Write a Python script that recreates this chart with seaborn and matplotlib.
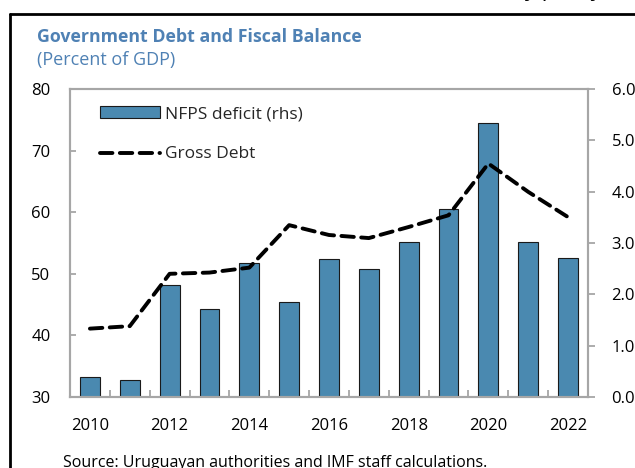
import numpy as np
import pandas as pd
import matplotlib
matplotlib.use("Agg")
import matplotlib.pyplot as plt
from matplotlib.lines import Line2D
from matplotlib.patches import Patch
from matplotlib.ticker import FixedLocator
import seaborn as sns

# Data (percent of GDP)
years = [2010, 2011, 2012, 2013, 2014, 2015, 2016, 2017, 2018, 2019, 2020, 2021, 2022]
nfps_deficit = [0.39, 0.33, 2.18, 1.72, 2.61, 1.85, 2.69, 2.50, 3.02, 3.66, 5.34, 3.02, 2.71]
gross_debt = [41.1, 41.5, 50.0, 50.2, 51.0, 57.9, 56.3, 55.8, 57.6, 59.5, 67.9, 63.3, 59.2]
year_labels = ["2010", "2012", "2014", "2016", "2018", "2020", "2022"]

df = pd.DataFrame({"year": years, "deficit": nfps_deficit, "debt": gross_debt})

sns.set_theme(style="white")
plt.rcParams["font.family"] = ["Open Sans", "DejaVu Sans"]

BLUE = "#4A89B0"
TITLE_BLUE = "#4F81B4"
SPINE = "#A6A6A6"
DASH = (0, (3.2, 1.9))

fig = plt.figure(figsize=(6.35, 4.68), dpi=100)
ax_debt = fig.add_axes([70 / 635, 1 - 397 / 468, 518 / 635, 308 / 468])
ax_def = ax_debt.twinx()

# Bars: deficit on the right-hand axis
sns.barplot(data=df, x="year", y="deficit", native_scale=True, width=0.5,
            color=BLUE, saturation=1, edgecolor="#1a1a1a", linewidth=0.8,
            ax=ax_def)

# Dashed line: gross debt on the left-hand axis
sns.lineplot(data=df, x="year", y="debt", color="black", linewidth=2.8,
             ax=ax_debt)
line = ax_debt.lines[0]
line.set_linestyle(DASH)
line.set_dash_capstyle("round")

# Line above bars
ax_debt.set_zorder(ax_def.get_zorder() + 1)
ax_debt.patch.set_visible(False)

ax_debt.set_xlim(2009.5, 2022.5)
ax_debt.set_ylim(30, 80)
ax_def.set_ylim(0, 6)
ax_debt.set_yticks(np.arange(30, 81, 10))
ax_def.set_yticks(np.arange(0, 6.01, 1))
ax_def.set_yticklabels([f"{v:.1f}" for v in np.arange(0, 6.01, 1)])

ax_debt.set_xticks([int(y) for y in year_labels])
ax_debt.set_xticklabels(year_labels)
ax_debt.xaxis.set_minor_locator(FixedLocator(np.arange(2010.5, 2022.0, 1)))

for a in (ax_debt, ax_def):
    a.set_xlabel("")
    a.set_ylabel("")
    for s in a.spines.values():
        s.set_color(SPINE)
        s.set_linewidth(1.5)

ax_debt.tick_params(axis="x", which="major", length=0, pad=15, labelsize=12,
                    colors="black")
ax_debt.tick_params(axis="x", which="minor", direction="in", length=5,
                    width=1.3, color=SPINE, bottom=True)
ax_debt.tick_params(axis="y", direction="in", length=4, width=1.3,
                    color=SPINE, labelcolor="black", pad=14, labelsize=12,
                    left=True)
ax_def.tick_params(axis="y", direction="out", length=5, width=1.3,
                   color=SPINE, labelcolor="black", pad=12, labelsize=12,
                   right=True)
ax_def.tick_params(axis="x", length=0)

# Legend
handles = [Patch(facecolor=BLUE, edgecolor="#1a1a1a", linewidth=0.8),
           Line2D([0], [0], color="black", linewidth=2.8,
                  linestyle=DASH, dash_capstyle="round")]
ax_debt.legend(handles, ["NFPS deficit (rhs)", "Gross Debt"],
               loc="upper left", bbox_to_anchor=(0.044, 0.967), frameon=False,
               fontsize=12.5, handlelength=3.45, handleheight=0.6,
               handletextpad=0.3, labelspacing=1.4, borderaxespad=0)

# Titles
fig.text(37 / 635, 1 - 37 / 468, "Government Debt and Fiscal Balance",
         color=TITLE_BLUE, fontsize=12.8, fontweight="bold", va="center",
         ha="left")
fig.text(37 / 635, 1 - 60 / 468, "(Percent of GDP)", color=TITLE_BLUE,
         fontsize=13, va="center", ha="left")

# Source note
fig.text(63 / 635, 1 - 463 / 468,
         "Source: Uruguayan authorities and IMF staff calculations.",
         color="black", fontsize=11.5, va="center", ha="left")

# Page heading above the frame
fig.text(602 / 635, 1 + 4 / 468, "Monetary policy", color="black",
         fontsize=16, va="baseline", ha="right")

# Frame around the panel
fig.add_artist(Line2D([10 / 635, 10 / 635], [0, 1 - 14 / 468],
                      transform=fig.transFigure, color="black", linewidth=2))
fig.add_artist(Line2D([10 / 635, 1], [1 - 14 / 468, 1 - 14 / 468],
                      transform=fig.transFigure, color="black", linewidth=2))

fig.savefig("out.png", dpi=100)
